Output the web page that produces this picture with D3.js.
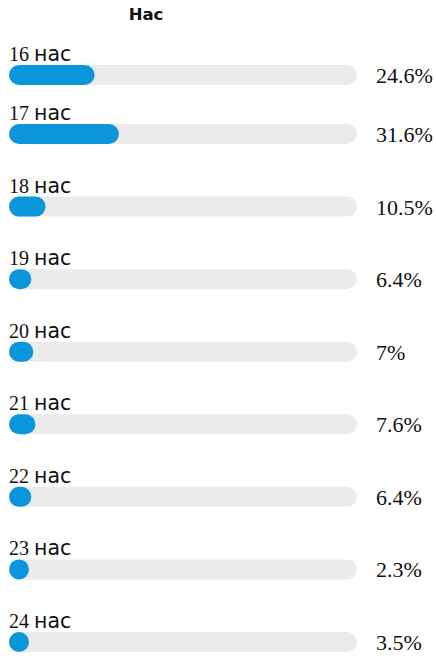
<!DOCTYPE html>
<html>
<head>
<meta charset="utf-8">
<script src="https://cdn.jsdelivr.net/npm/d3@7"></script>
<style>
  html, body { margin: 0; padding: 0; background: #fff; }
  svg { display: block; }
</style>
</head>
<body>
<svg id="chart" width="436" height="656"></svg>
<script>
// Age groups and their share of respondents (%)
const ages = ["16", "17", "18", "19", "20", "21", "22", "23", "24"];
const shares = [24.6, 31.6, 10.5, 6.4, 7, 7.6, 6.4, 2.3, 3.5];
const unit = "нас";
const title = "Нас";

const W = 436, H = 656;
const trackLeft = 9, trackRight = 357;
const barH = 20;

const svg = d3.select("#chart");

const x = d3.scaleLinear().domain([0, 100]).range([0, trackRight - trackLeft]);

// rows after the first are evenly spaced; the first sits a little closer
const rowScale = d3.scalePoint().domain(ages.slice(1)).range([134, 642]);
const firstGap = 59;
const rowY = (a, i) => i === 0 ? rowScale(ages[1]) - firstGap : rowScale(a);

const rows = ages.map((a, i) => ({ age: a, share: shares[i], cy: rowY(a, i) }));

svg.append("text")
  .attr("x", 146)
  .attr("y", 20)
  .attr("text-anchor", "middle")
  .attr("font-family", "DejaVu Sans")
  .attr("font-weight", "bold")
  .attr("font-size", 16.5)
  .attr("fill", "#111")
  .text(title);

const g = svg.selectAll("g.row").data(rows).join("g").attr("class", "row");

// grey track
g.append("rect")
  .attr("x", trackLeft)
  .attr("y", d => d.cy - barH / 2)
  .attr("width", trackRight - trackLeft)
  .attr("height", barH)
  .attr("rx", barH / 2)
  .attr("fill", "#ebebeb");

// value bar (never narrower than its rounded cap)
g.append("rect")
  .attr("x", trackLeft)
  .attr("y", d => d.cy - barH / 2)
  .attr("width", d => Math.max(barH, x(d.share)))
  .attr("height", barH)
  .attr("rx", barH / 2)
  .attr("fill", "#0b95db");

// row label above the bar
const lbl = g.append("text")
  .attr("x", trackLeft)
  .attr("y", d => d.cy - barH / 2 - 4)
  .attr("fill", "#111");
lbl.append("tspan")
  .attr("font-family", "Liberation Serif")
  .attr("font-size", 20)
  .text(d => d.age + " ");
lbl.append("tspan")
  .attr("font-family", "DejaVu Sans")
  .attr("font-size", 20.5)
  .text(unit);

// percentage to the right
g.append("text")
  .attr("x", 376)
  .attr("y", d => d.cy + 8)
  .attr("font-family", "Liberation Serif")
  .attr("font-size", 22)
  .attr("fill", "#111")
  .text(d => d.share + "%");
</script>
</body>
</html>
